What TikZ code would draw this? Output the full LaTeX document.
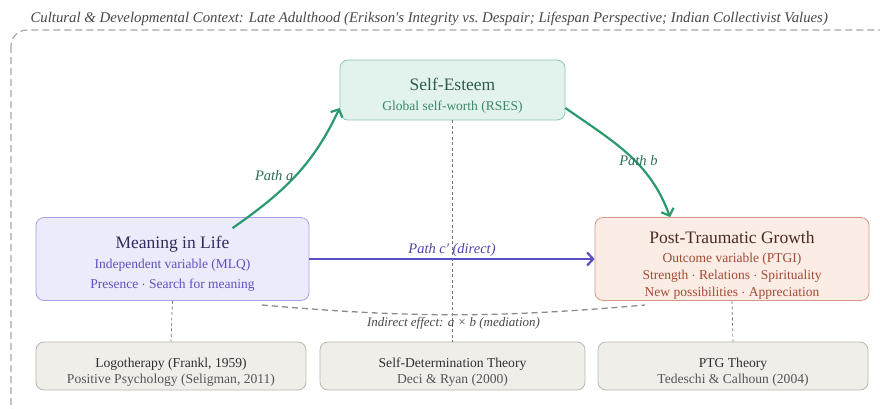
\documentclass[tikz,border=0pt]{standalone}
\usepackage{fontspec}
\setmainfont{Liberation Serif}
\usepackage{xcolor}
\usetikzlibrary{positioning,arrows.meta,calc}

\definecolor{seFill}{HTML}{E1F3EC}
\definecolor{seDraw}{HTML}{8CC7AE}
\definecolor{seTitle}{HTML}{2F5D4C}
\definecolor{seText}{HTML}{3A8768}
\definecolor{milFill}{HTML}{ECEBFC}
\definecolor{milDraw}{HTML}{A7A2E5}
\definecolor{milTitle}{HTML}{2E2C5C}
\definecolor{milText}{HTML}{5B52BE}
\definecolor{ptgFill}{HTML}{FBECE6}
\definecolor{ptgDraw}{HTML}{D39885}
\definecolor{ptgTitle}{HTML}{4B2B23}
\definecolor{ptgText}{HTML}{A24A32}
\definecolor{thFill}{HTML}{F0EEE8}
\definecolor{thDraw}{HTML}{B9B6AF}
\definecolor{thText}{HTML}{555555}
\definecolor{thHead}{HTML}{2E2E2E}
\definecolor{pathGreen}{HTML}{2A9A6E}
\definecolor{pathGreenText}{HTML}{2E6E58}
\definecolor{pathPurple}{HTML}{5A50C6}
\definecolor{pathPurpleText}{HTML}{4E46A8}

\newcommand{\ttl}[1]{{\fontsize{17.5}{20}\selectfont #1}}

\begin{document}
\begin{tikzpicture}[x=1pt, y=1pt,
  font=\fontsize{13.5}{20}\selectfont, >={Straight Barb[length=6pt,width=13pt]},
  v/.style={draw, rounded corners=8pt, line width=0.8pt, inner sep=0pt},
  tx/.style={align=center, inner sep=0pt},
  th/.style={v, draw=thDraw, fill=thFill, minimum height=48pt},
  thtx/.style={tx, text=thText, font=\fontsize{13.6}{16}\selectfont},
  l/.style={font=\fontsize{14.5}{16}\selectfont\itshape, inner sep=1pt},
  cn/.style={draw=black!55, line width=0.7pt, dash pattern=on 3pt off 2.5pt}]
\useasboundingbox (0,0) rectangle (880,-408);
% context frame
\draw[black!35, line width=1.2pt, dash pattern=on 7pt off 4pt, rounded corners=16pt] (11,-30) rectangle (896,-420);
\node[anchor=west, font=\fontsize{14.8}{16}\selectfont\itshape, text=black!72] (ctx) at (27,-19)
  {Cultural \& Developmental Context: Late Adulthood (Erikson\textquotesingle s Integrity vs.\ Despair; Lifespan Perspective; Indian Collectivist Values)};

% variables
\node[v, draw=seDraw, fill=seFill, minimum width=225pt, minimum height=60pt] (se) at (452.5,-90) {};
\node[tx, text=seText] (setx) at ($(se)+(0,-6)$) {\ttl{\color{seTitle}Self-Esteem}\\Global self-worth (RSES)};
\node[v, draw=milDraw, fill=milFill, minimum width=273pt, minimum height=83pt] (mil) at (172.5,-259) {};
\node[tx, text=milText] (miltx) at ($(mil)+(0,-4.5)$)
  {\ttl{\color{milTitle}Meaning in Life}\\Independent variable (MLQ)\\Presence $\cdot$ Search for meaning};
\node[v, draw=ptgDraw, fill=ptgFill, minimum width=274pt, minimum height=83pt] (ptg) at (732,-259) {};
\node[tx, text=ptgText] (ptgtx) at ($(ptg)+(0,-6.5)$)
  {\ttl{\color{ptgTitle}Post-Traumatic Growth}\\[-1pt]Outcome variable (PTGI)\\[-3pt]Strength $\cdot$ Relations $\cdot$ Spirituality\\[-3pt]New possibilities $\cdot$ Appreciation};

% theories
\node[th, minimum width=270pt] (logo) at (171,-366) {};
\node[thtx] (logotx) at ($(logo)+(0,-6)$) {\textcolor{thHead}{Logotherapy (Frankl, 1959)}\\Positive Psychology (Seligman, 2011)};
\node[th, minimum width=265pt] (sdt) at (452.5,-366) {};
\node[thtx] (sdttx) at ($(sdt)+(0,-6)$) {\textcolor{thHead}{Self-Determination Theory}\\Deci \& Ryan (2000)};
\node[th, minimum width=270pt] (ptgt) at (733,-366) {};
\node[thtx] (ptgttx) at ($(ptgt)+(0,-6)$) {\textcolor{thHead}{PTG Theory}\\Tedeschi \& Calhoun (2004)};

\draw[cn] (mil.south) -- (logo.north);
\draw[cn] (se.south) -- (sdt.north);
\draw[cn] (ptg.south) -- (ptgt.north);

% paths
\draw[->, pathGreen, line width=2.2pt] ($(mil.north)+(60,-11)$) to[out=35, in=-115]
  node[l, pos=0.5, left, text=pathGreenText] {Path a} ($(se.west)+(0,-18)$);
\draw[->, pathGreen, line width=2.2pt] ($(se.east)+(0,-18)$) to[out=-35, in=110]
  node[l, pos=0.56, xshift=4pt, text=pathGreenText] {Path b} ($(ptg.north)+(-62,0)$);
\draw[->, pathPurple, line width=2.2pt] (mil.east) -- node[l, above, text=pathPurpleText] {Path c\textquotesingle{} (direct)} (ptg.west);

% indirect effect
\coordinate (ie1) at (262,-305);
\coordinate (ie2) at (645,-305);
\draw[black!45, line width=1.3pt, dash pattern=on 6pt off 4pt] (ie1) to[bend right=5]
  node[pos=0.5, below=-1pt, font=\fontsize{13}{15}\selectfont\itshape, text=black!72] {Indirect effect: \textit{a} × \textit{b} (mediation)} (ie2);
\end{tikzpicture}
\end{document}
